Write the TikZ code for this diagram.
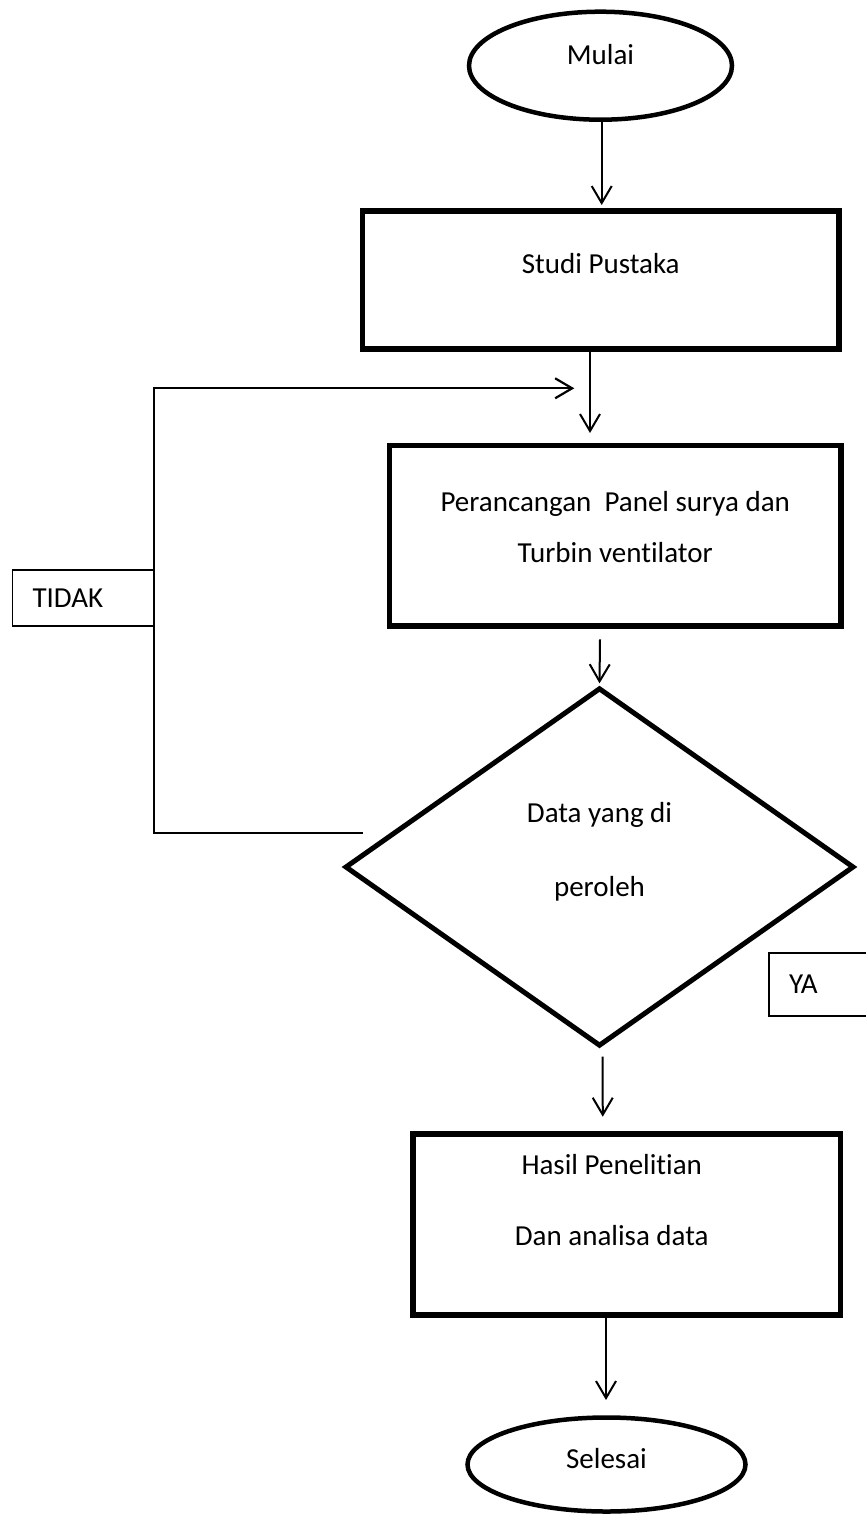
\documentclass[tikz,border=0pt]{standalone}
\usepackage{fontspec}
\setmainfont{Carlito}[Ligatures={NoCommon,NoContextual}]
\usetikzlibrary{shapes.geometric,arrows.meta}
\begin{document}
\begin{tikzpicture}[x=1pt,y=-1pt,
  every node/.style={font=\fontsize{29}{35}\selectfont},
  term/.style={ellipse, draw, line width=4.5pt, inner sep=0pt, outer sep=0pt},
  proc/.style={rectangle, draw, line width=5.5pt, inner sep=0pt, outer sep=0pt},
  dec/.style={diamond, draw, line width=5pt, inner sep=0pt, outer sep=0pt},
  tag/.style={rectangle, draw, line width=1.8pt, align=left, inner ysep=0pt, outer sep=0pt, anchor=north west},
  arr/.style={line width=2pt, -{Straight Barb[length=17pt,width=20pt]}},
  fb/.style={line width=2.2pt}]
\clip (0,0) rectangle (866,1517);

\node[term, minimum width=263pt, minimum height=108pt,
  label={[yshift=10.7pt]center:Mulai}] (mulai) at (600.5,65.7) {};

\node[proc, minimum width=476.5pt, minimum height=138pt,
  label={[yshift=16.3pt]center:Studi Pustaka}] (studi) at (600.75,280) {};

\node[proc, minimum width=451.5pt, minimum height=180.5pt,
  label={[align=center, font=\fontsize{29}{51}\selectfont, yshift=8.75pt]center:Perancangan\ \ Panel surya dan\\Turbin ventilator}] (peran) at (615.25,535.75) {};

\node[dec, minimum width=507pt, minimum height=356.4pt,
  label={[align=center, font=\fontsize{29}{74}\selectfont, yshift=15pt]center:Data yang di\\peroleh}] (data) at (599.5,867) {};

\node[tag, minimum height=56pt, inner xsep=20pt, text width=101pt] (tidak) at (12.5,570) {TIDAK};

\node[tag, minimum height=63.3pt, inner xsep=20pt, text width=80pt] (ya) at (769,952.7) {YA};

\node[proc, minimum width=427.5pt, minimum height=181pt,
  label={[align=center, font=\fontsize{29}{71}\selectfont, xshift=-15pt, yshift=24.5pt]center:Hasil Penelitian\\Dan analisa data}] (hasil) at (626.75,1224.5) {};

\node[term, minimum width=278pt, minimum height=94pt,
  label={[yshift=5.5pt]center:Selesai}] (selesai) at (606.5,1464.5) {};

% connectors
\draw[arr] ([xshift=1.2pt]mulai.south) -- ([xshift=0.95pt,yshift=6pt]studi.north);
\draw[arr] ([xshift=-10.75pt]studi.south) -- ([xshift=-25.25pt,yshift=12.5pt]peran.north);
\draw[arr] ([xshift=-15.25pt,yshift=-13.3pt]peran.south) -- ([yshift=5.5pt]data.north);
\draw[arr] ([xshift=3.2pt,yshift=-11.5pt]data.south) -- ([xshift=-24pt,yshift=17.3pt]hasil.north);
\draw[arr] ([xshift=-20.75pt]hasil.south) -- ([xshift=-0.5pt,yshift=17.5pt]selesai.north);

% feedback loop (TIDAK)
\coordinate (fbstart) at (362.7,833);
\coordinate (fbcorner) at (154,388.3);
\coordinate (fbend) at (574.3,388.3);
\draw[arr, line width=2.2pt] (fbstart) -| (fbcorner) -- (fbend);
\end{tikzpicture}
\end{document}
